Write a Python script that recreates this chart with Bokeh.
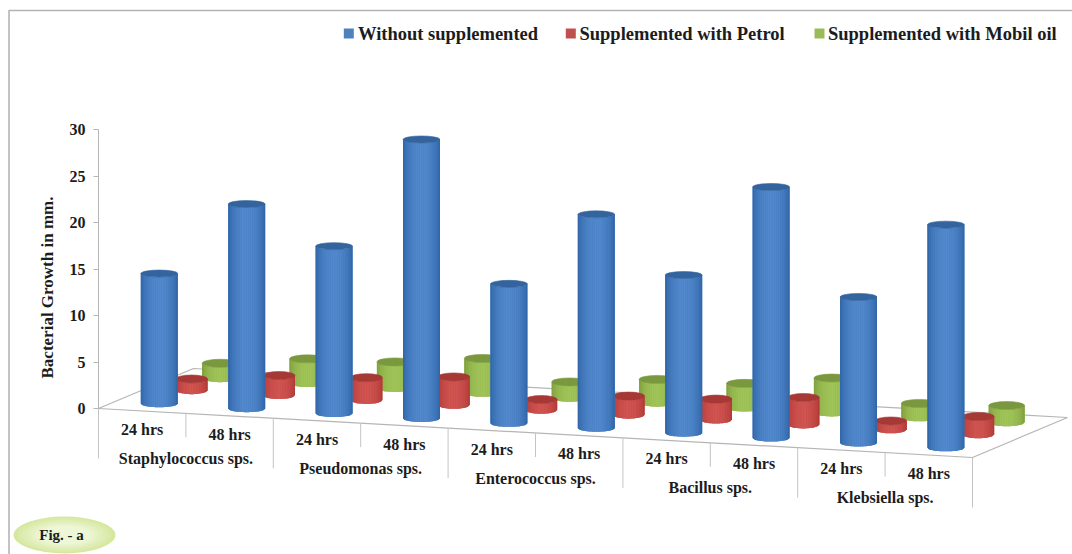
from bokeh.core.properties import value
from bokeh.embed import file_html
from bokeh.models import ColumnDataSource, FixedTicker, LinearAxis
from bokeh.plotting import figure
from bokeh.resources import INLINE
import math

# Bacterial growth (mm) per organism and incubation time
organisms = ["Staphylococcus sps.", "Pseudomonas sps.", "Enterococcus sps.", "Bacillus sps.", "Klebsiella sps."]
hours = ["24 hrs", "48 hrs"]
without_supplement = [14, 22, 18, 30, 15, 23, 17, 27, 15.7, 24]
with_petrol = [1.2, 2.1, 2.4, 3.0, 1.1, 2.0, 2.2, 2.9, 0.9, 1.9]
with_mobil_oil = [1.6, 2.6, 2.8, 3.7, 1.7, 2.5, 2.6, 3.7, 1.5, 1.8]
series_names = ["Without supplemented", "Supplemented with Petrol", "Supplemented with Mobil oil"]
y_ticks = [0, 5, 10, 15, 20, 25, 30]
y_title = "Bacterial Growth in mm."

W, H = 1072, 554
PX_PER_UNIT = 9.3          # vertical pixels per mm of growth
BASE_PX = 408              # pixel row of the value axis zero

# Oblique projection of the chart box
ORIGIN_X = 98.0
STEP_X, STEP_DROP = 87.4, 4.9      # one bar slot along the front edge
DEPTH_X, DEPTH_RISE = 95.0, 40.0   # full depth of the floor
SLOTS = len(without_supplement)


def units(px):
    """Pixel distance to value-axis units."""
    return px / PX_PER_UNIT


def project(slot, depth, v=0.0):
    """Chart position of a slot, a depth fraction and a value."""
    x = ORIGIN_X + STEP_X * slot + DEPTH_X * depth
    y = units(-STEP_DROP * slot + DEPTH_RISE * depth) + v
    return x, y


def mix(a, b, t):
    return tuple(a[i] + (b[i] - a[i]) * t for i in range(3))


def to_hex(c):
    return "#%02x%02x%02x" % tuple(int(round(v)) for v in c)


p = figure(
    width=W, height=H, output_backend="svg", toolbar_location=None,
    x_range=(0, W), y_range=(units(BASE_PX - H), units(BASE_PX)),
    x_axis_location=None, y_axis_location=None,
    min_border=0, outline_line_color=None, background_fill_color="white",
)
p.xgrid.visible = False
p.ygrid.visible = False

# Page frame
p.line([8.5, 8.5, W], [units(BASE_PX - H), units(BASE_PX - 10), units(BASE_PX - 10)],
       line_color="#b4b4b4", line_width=1.6)

# Floor of the chart box
corners = [project(0, 0), project(0, 1), project(SLOTS, 1), project(SLOTS, 0), project(0, 0)]
p.line([c[0] for c in corners], [c[1] for c in corners], line_color="#b5b5b5", line_width=1.2)

# Category separators below the front edge
for i in range(SLOTS + 1):
    x, y = project(i, 0)
    drop = 50 if i % 2 == 0 else 24
    p.line([x, x], [y, y - units(drop)], line_color="#c4c4c4", line_width=1)

SERIF = value("Liberation Serif")
INK = "#1c1c1c"

# Time labels under each slot, organism labels under each pair
hour_x, hour_y, hour_t = [], [], []
for i in range(SLOTS):
    x, y = project(i + 0.5, 0)
    hour_x.append(x)
    hour_y.append(y - units(18.5))
    hour_t.append(hours[i % 2])
p.text(hour_x, hour_y, hour_t, text_font=SERIF, text_font_style="bold", text_font_size="16px",
       text_color=INK, text_align="center", text_baseline="middle")

org_x, org_y = [], []
for i in range(len(organisms)):
    x, y = project(2 * i + 1, 0)
    org_x.append(x)
    org_y.append(y - units(45))
p.text(org_x, org_y, organisms, text_font=SERIF, text_font_style="bold", text_font_size="16px",
       text_color=INK, text_align="center", text_baseline="middle")


def draw_cylinders(values, depth, radius, ry, edge, middle, cap):
    """Shaded cylinders: a solid body, vertical strips on it, an ellipse for the lid."""
    strips = 20
    body_x, body_y = [], []
    xs, ys, colors = [], [], []
    cap_x, cap_y = [], []
    for i, v in enumerate(values):
        cx, base = project(i + 0.5, depth)
        top = base + v
        cap_x.append(cx)
        cap_y.append(top)
        foot_x, foot_y, lid_x, lid_y = [], [], [], []
        for s in range(strips):
            # evenly wide strips across the cylinder
            u0, u1 = -1 + 2 * s / strips, -1 + 2 * (s + 1) / strips
            x0, x1 = cx + radius * u0, cx + radius * u1
            h0, h1 = math.sqrt(max(0, 1 - u0 * u0)), math.sqrt(max(0, 1 - u1 * u1))
            b0, b1 = base - units(ry * h0), base - units(ry * h1)
            t0, t1 = top - units(ry * h0), top - units(ry * h1)
            xs.append([x0, x1, x1, x0])
            ys.append([b0, b1, t1, t0])
            um = (u0 + u1) / 2
            colors.append(to_hex(mix(edge, middle, max(0, 1 - um * um) ** 0.8)))
            foot_x.append(x0)
            foot_y.append(b0)
            lid_x.append(x0)
            lid_y.append(t0)
        foot_x.append(cx + radius)
        foot_y.append(base)
        lid_x.append(cx + radius)
        lid_y.append(top)
        body_x.append(foot_x + lid_x[::-1])
        body_y.append(foot_y + lid_y[::-1])
    p.patches(body_x, body_y, fill_color=to_hex(mix(edge, middle, 0.6)), line_color=None)
    src = ColumnDataSource(dict(xs=xs, ys=ys, color=colors))
    p.patches("xs", "ys", source=src, fill_color="color", line_color=None)
    p.ellipse(cap_x, cap_y, width=2 * radius, height=units(2 * ry),
              fill_color=to_hex(cap), line_color=to_hex(mix(cap, edge, 0.5)), line_width=0.6)


# Painted back to front so the nearer row hides the farther ones
draw_cylinders(with_mobil_oil, 0.82, 18, 4,
               (124, 156, 60), (160, 196, 88), (122, 152, 62))
draw_cylinders(with_petrol, 0.52, 16, 4,
               (172, 54, 52), (208, 84, 80), (166, 56, 54))
draw_cylinders(without_supplement, 0.18, 18.5, 3.5,
               (44, 98, 164), (82, 136, 204), (52, 100, 158))

# Value axis standing at the left corner of the floor
axis = LinearAxis(
    fixed_location=ORIGIN_X, bounds=(0, 30), ticker=FixedTicker(ticks=y_ticks),
    major_label_text_font="Liberation Serif", major_label_text_font_style="bold",
    major_label_text_font_size="16px", major_label_text_color=INK, major_label_standoff=8,
    axis_line_color="#b5b5b5", major_tick_line_color="#b5b5b5",
    major_tick_out=5, major_tick_in=0, minor_tick_out=0, minor_tick_in=0,
)
p.add_layout(axis, "left")
p.text([47], [units(BASE_PX - 287)], [y_title], angle=math.pi / 2, text_font=SERIF,
       text_font_style="bold", text_font_size="17px", text_color=INK,
       text_align="center", text_baseline="middle")

# Legend row
legend_marker_px = [348.3, 570.3, 819]
legend_text_px = [357.5, 579, 827.5]
legend_colors = ["#4f81bd", "#c0504d", "#9bbb59"]
legend_y = units(BASE_PX - 33)
p.rect(legend_marker_px, [legend_y] * 3, width=10, height=units(10),
       fill_color=legend_colors, line_color=None)
p.text(legend_text_px, [legend_y] * 3, series_names, text_font=SERIF, text_font_style="bold",
       text_font_size="18.5px", text_color=INK, text_align="left", text_baseline="middle")

# Figure tag in the lower left corner
tag_x, tag_y = 64, units(BASE_PX - 534.5)
tag_rings = 7
for k in range(tag_rings):
    t = k / (tag_rings - 1)
    p.ellipse([tag_x], [tag_y], width=102 * (1 - 0.5 * t), height=units(37 * (1 - 0.5 * t)),
              fill_color=to_hex(mix((214, 232, 160), (238, 246, 216), t)), line_color=None)
p.text([61], [tag_y], ["Fig. - a"], text_font=SERIF, text_font_style="bold", text_font_size="15px",
       text_color=INK, text_align="center", text_baseline="middle")

open("out.html", "w").write(file_html(p, INLINE))
